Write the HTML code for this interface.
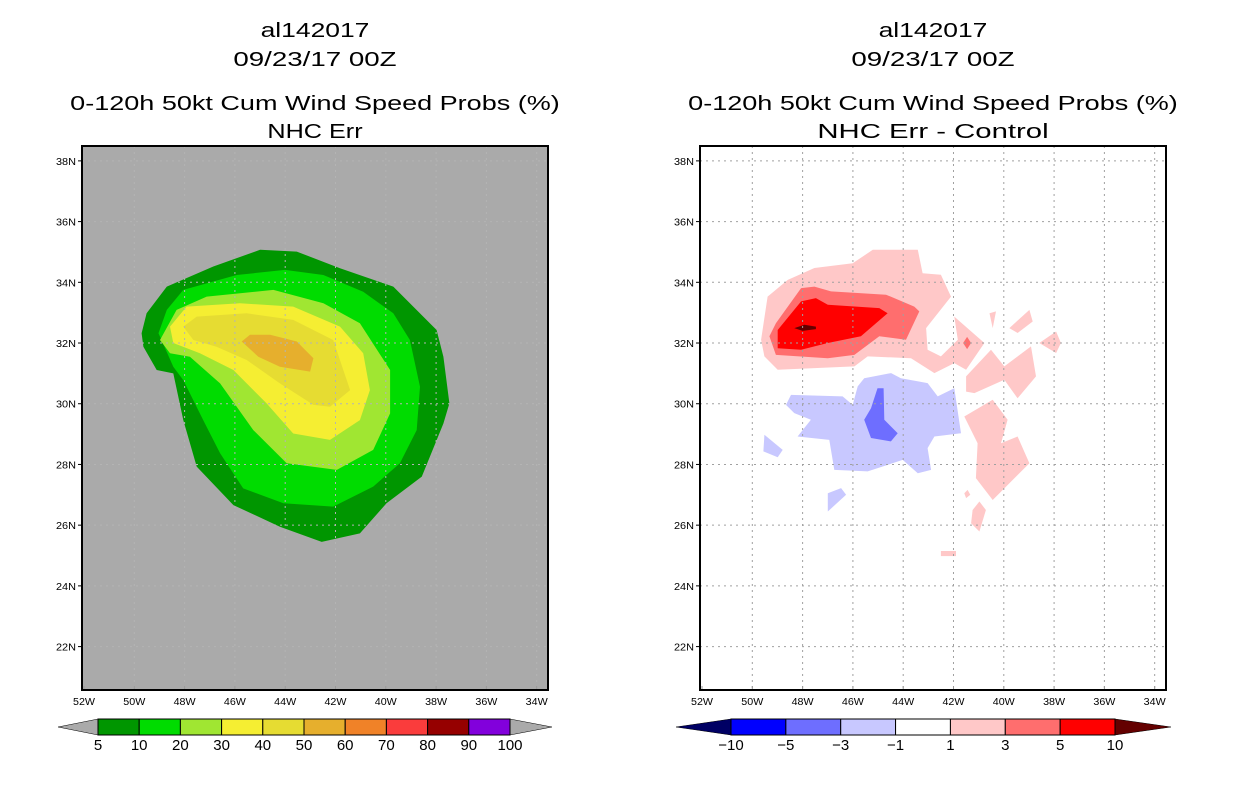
<!DOCTYPE html>
<html><head><meta charset="utf-8"><style>
body{margin:0;background:#fff;}
svg{display:block;font-family:"Liberation Sans",sans-serif;}
</style></head><body>
<svg id="s" width="1236" height="800" viewBox="0 0 1236 800"></svg>
<script>
// ---- data (lon, lat in degrees) ----
const latTicks=[38,36,34,32,30,28,26,24,22];
const lonTicks=[52,50,48,46,44,42,40,38,36,34];
const leftLevels=["5","10","20","30","40","50","60","70","80","90","100"];
const leftColors=["#009600","#00dc00","#a0e632","#f5ee32","#e6dc32","#e6af2d","#f08228","#fa3c3c","#960000","#8200dc"];
const rightLevels=["-10","-5","-3","-1","1","3","5","10"];
const rightColors=["#0000ff","#6e6eff","#c8c8ff","#ffffff","#ffc8c8","#ff6e6e","#ff0000"];
const p5=[[-49.71,32.32],[-49.51,32.98],[-48.71,33.86],[-46.86,34.52],[-45.0,35.07],[-43.54,35.01],[-41.82,34.46],[-39.7,33.86],[-37.98,32.43],[-37.71,31.55],[-37.47,30.01],[-37.71,29.35],[-38.57,27.6],[-39.97,26.72],[-41.03,25.73],[-42.55,25.45],[-44.21,25.95],[-46.06,26.66],[-47.52,27.93],[-48.05,29.46],[-48.45,31.0],[-49.11,31.11],[-49.64,31.88]];
const p10=[[-49.04,32.32],[-48.71,33.09],[-48.05,33.75],[-45.93,34.24],[-44.01,34.41],[-42.48,34.24],[-40.9,33.69],[-39.7,32.98],[-39.04,32.1],[-38.64,30.56],[-38.77,29.13],[-39.44,28.04],[-40.5,27.27],[-42.09,26.61],[-44.07,26.72],[-45.67,27.21],[-46.59,28.37],[-47.26,29.46],[-48.05,30.78],[-48.45,31.22]];
const p20=[[-48.98,32.1],[-48.32,33.09],[-47.12,33.53],[-44.47,33.75],[-42.48,33.31],[-41.03,32.65],[-39.83,31.11],[-39.83,29.68],[-40.5,28.48],[-41.95,27.82],[-43.94,28.04],[-45.27,29.13],[-46.59,30.67],[-47.79,31.55],[-48.58,31.66]];
const p30=[[-48.58,32.54],[-47.92,33.2],[-45.8,33.31],[-43.68,33.2],[-41.82,32.54],[-40.9,31.66],[-40.63,30.45],[-41.03,29.46],[-42.22,28.81],[-43.68,29.02],[-44.74,30.01],[-46.06,31.11],[-47.39,31.66],[-48.45,32.0]];
const p40=[[-48.05,32.54],[-47.52,32.87],[-45.53,32.98],[-43.68,32.76],[-42.09,32.1],[-41.42,30.45],[-42.22,29.9],[-42.88,29.96],[-44.21,30.67],[-45.53,31.44],[-46.73,31.88],[-47.65,32.1]];
const p50=[[-45.73,32.05],[-45.4,32.27],[-44.6,32.27],[-43.54,32.05],[-42.88,31.5],[-43.01,31.06],[-44.21,31.22],[-45.07,31.55]];
const pos1=[[-49.65,32.11],[-49.39,33.53],[-48.59,34.08],[-47.53,34.47],[-46.01,34.63],[-45.21,35.07],[-43.42,35.07],[-43.23,34.3],[-42.5,34.25],[-42.1,33.53],[-43.09,32.49],[-43.03,31.78],[-42.5,31.56],[-41.83,32.11],[-41.97,32.87],[-40.77,32.0],[-41.5,31.12],[-41.97,31.34],[-42.76,31.01],[-43.69,31.5],[-45.41,31.56],[-45.94,31.23],[-48.99,31.12],[-49.52,31.56]];
const posA=[[-40.57,32.98],[-40.31,33.04],[-40.44,32.49]];
const posB=[[-39.78,32.49],[-38.98,33.09],[-38.85,32.71],[-39.45,32.33]];
const posC=[[-38.59,32.0],[-37.92,32.38],[-37.73,32.0],[-37.92,31.67]];
const posD=[[-41.5,30.9],[-40.51,31.78],[-39.98,31.23],[-38.92,31.89],[-38.72,30.9],[-39.45,30.18],[-39.98,30.79],[-41.17,30.35],[-41.5,30.4]];
const posE=[[-41.57,29.58],[-40.44,30.13],[-39.85,29.47],[-40.11,28.7],[-39.45,28.92],[-38.98,28.04],[-40.44,26.83],[-41.11,27.55],[-41.04,28.7]];
const posF=[[-41.24,26.5],[-40.97,26.78],[-40.71,26.5],[-40.97,25.79],[-41.3,26.06]];
const posG=[[-41.57,27.05],[-41.44,27.16],[-41.33,27.0],[-41.5,26.89]];
const posH=[[-42.5,25.15],[-41.9,25.15],[-41.9,24.98],[-42.5,24.98]];
const pos3=[[-49.32,32.22],[-49.06,32.65],[-48.06,33.81],[-47.53,33.86],[-46.87,33.7],[-44.68,33.59],[-43.56,33.2],[-43.36,33.04],[-43.89,32.11],[-44.95,32.22],[-45.94,31.61],[-47.0,31.5],[-49.06,31.61]];
const pos3b=[[-41.46,32.2],[-41.3,32.0],[-41.46,31.8],[-41.62,32.0]];
const pos5=[[-48.99,32.43],[-48.06,33.37],[-47.47,33.48],[-47.0,33.26],[-44.95,33.15],[-44.62,32.98],[-45.68,32.22],[-47.0,32.0],[-48.06,31.78],[-48.99,31.83]];
const pos10=[[-48.33,32.49],[-47.93,32.6],[-47.47,32.54],[-47.47,32.46],[-48.0,32.4]];
const neg1=[[-48.66,29.96],[-48.46,30.29],[-46.41,30.24],[-46.01,29.96],[-45.81,30.57],[-45.55,30.84],[-44.48,31.01],[-44.09,30.84],[-43.03,30.68],[-42.63,30.24],[-41.97,30.51],[-41.7,29.03],[-42.76,28.92],[-43.03,28.54],[-42.89,27.82],[-43.42,27.71],[-44.02,28.15],[-45.41,27.77],[-46.74,27.82],[-46.94,28.81],[-48.2,28.92],[-47.67,29.47],[-48.33,29.69]];
const neg1b=[[-49.52,28.98],[-48.79,28.48],[-48.99,28.24],[-49.56,28.43]];
const neg1c=[[-47.0,27.05],[-46.47,27.22],[-46.27,27.0],[-47.0,26.45]];
const neg3=[[-45.55,29.47],[-45.28,29.85],[-45.02,30.51],[-44.78,30.51],[-44.75,29.47],[-44.22,29.03],[-44.49,28.76],[-45.28,28.87]];

// ---- axes ----
const LON0=-52.08,LON1=-33.55,LAT0=20.57,LAT1=38.49,W=466,H=544,TOP=146;
function mkX(x0){return lon=>x0+(lon-LON0)/(LON1-LON0)*W;}
function yS(lat){return TOP+(LAT1-lat)/(LAT1-LAT0)*H;}
const svg=document.getElementById('s');
const NS='http://www.w3.org/2000/svg';
function el(tag,attrs,parent,txt){const e=document.createElementNS(NS,tag);for(const k in attrs)e.setAttribute(k,attrs[k]);if(txt!==undefined)e.textContent=txt;(parent||svg).appendChild(e);return e;}

function panel(x0,bg,gridCol,polys,t1,t2,t3,t4,pname){
  const xS=mkX(x0);const cx=x0+W/2;
  const g=el('g',{});
  
  
  [[t1,30],[t2,59],[t3,103],[t4,131]].forEach(([t,y],i)=>{
    const tl=t.length*13.6;
    const tx=el('text',{x:cx,y:y+7,'text-anchor':'middle','font-size':20,textLength:tl,lengthAdjust:'spacingAndGlyphs'},g,t);
    
    
  });
  const r=el('rect',{x:x0,y:TOP,width:W,height:H,fill:bg},g);
  
  
  polys.forEach(([pts,c])=>{
    const p=el('polygon',{points:pts.map(q=>xS(q[0]).toFixed(1)+','+yS(q[1]).toFixed(1)).join(' '),fill:c},g);
    
    
  });
  lonTicks.forEach(l=>{const x=xS(-l);
    if(l<52&&l>33){const gl=el('line',{x1:x,x2:x,y1:TOP,y2:TOP+H,stroke:gridCol,'stroke-dasharray':'2,4'},g);
    }
    el('line',{x1:x,x2:x,y1:TOP+H,y2:TOP+H-4,stroke:'#999'},g);
    const t=el('text',{x:x,y:TOP+H+15,'text-anchor':'middle','font-size':10,textLength:22,lengthAdjust:'spacingAndGlyphs'},g,l+'W');
    
  });
  latTicks.forEach(l=>{const y=yS(l);
    const gl=el('line',{x1:x0,x2:x0+W,y1:y,y2:y,stroke:gridCol,'stroke-dasharray':'2,4'},g);
    
    el('line',{x1:x0-4,x2:x0,y1:y,y2:y,stroke:'#000'},g);
    const t=el('text',{x:x0-6,y:y+4,'text-anchor':'end','font-size':10,textLength:20,lengthAdjust:'spacingAndGlyphs'},g,l+'N');
    
  });
  const b=el('rect',{x:x0,y:TOP,width:W,height:H,fill:'none',stroke:'#000','stroke-width':2},g);
  
}

panel(82,'#aaaaaa','#b4b4b4',[[p5,leftColors[0]],[p10,leftColors[1]],[p20,leftColors[2]],[p30,leftColors[3]],[p40,leftColors[4]],[p50,leftColors[5]]],
  'al142017','09/23/17 00Z','0-120h 50kt Cum Wind Speed Probs (%)','NHC Err','left-panel');
panel(700,'#ffffff','#a0a0a0',[[pos1,rightColors[4]],[posA,rightColors[4]],[posB,rightColors[4]],[posC,rightColors[4]],[posD,rightColors[4]],[posE,rightColors[4]],[posF,rightColors[4]],[posG,rightColors[4]],[posH,rightColors[4]],
  [pos3,rightColors[5]],[pos3b,rightColors[5]],[pos5,rightColors[6]],[pos10,'#640000'],
  [neg1,rightColors[2]],[neg1b,rightColors[2]],[neg1c,rightColors[2]],[neg3,rightColors[1]]],
  'al142017','09/23/17 00Z','0-120h 50kt Cum Wind Speed Probs (%)','NHC Err - Control','right-panel');

// ---- colorbars ----
function colorbar(x0,x1,tl,tr,colors,levels,triL,triR,name){
  const g=el('g',{});
  
  
  const y0=719,y1=735,ym=727,n=colors.length,w=(x1-x0)/n;
  el('polygon',{points:`${tl},${ym} ${x0},${y0} ${x0},${y1}`,fill:triL,stroke:'#000','stroke-width':0.5},g);
  el('polygon',{points:`${tr},${ym} ${x1},${y0} ${x1},${y1}`,fill:triR,stroke:'#000','stroke-width':0.5},g);
  colors.forEach((c,i)=>{
    const r=el('rect',{x:x0+i*w,y:y0,width:w,height:y1-y0,fill:c,stroke:'#000','stroke-width':1},g);
    
  });
  levels.forEach((l,i)=>{
    const t=el('text',{x:x0+i*w,y:y1+15,'text-anchor':'middle','font-size':15},g,l.replace('-','\u2212'));
    
  });
}
colorbar(98,510,58,552,leftColors,leftLevels,'#aaaaaa','#aaaaaa','left-colorbar');
colorbar(731,1115,676,1171,rightColors,rightLevels,'#000064','#640000','right-colorbar');
</script>
</body></html>
